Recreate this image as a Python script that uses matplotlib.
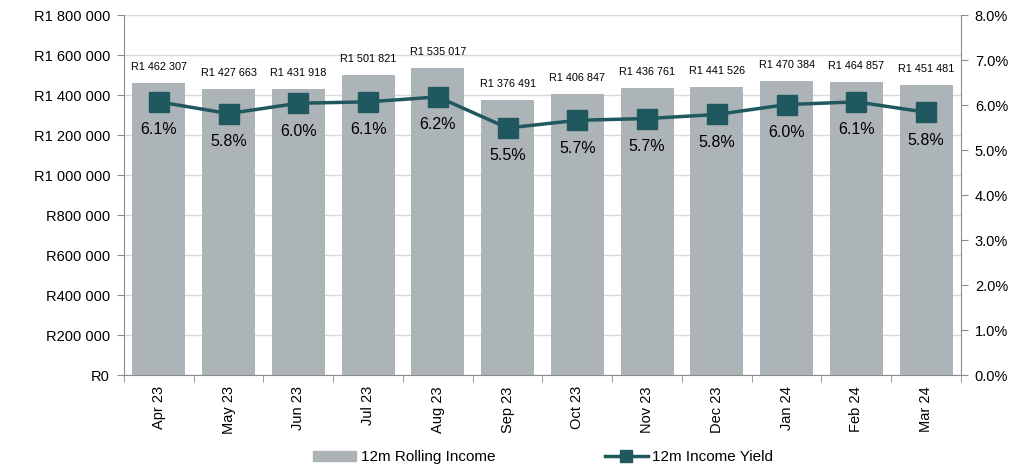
import matplotlib.pyplot as plt
import numpy as np
from matplotlib.lines import Line2D
import matplotlib.patches as mpatches

plt.rcParams['font.family'] = ['Liberation Sans', 'DejaVu Sans']

months = ['Apr 23', 'May 23', 'Jun 23', 'Jul 23', 'Aug 23', 'Sep 23',
          'Oct 23', 'Nov 23', 'Dec 23', 'Jan 24', 'Feb 24', 'Mar 24']
income = [1462307, 1427663, 1431918, 1501821, 1535017, 1376491,
          1406847, 1436761, 1441526, 1470384, 1464857, 1451481]
yield_pct = [6.07, 5.81, 6.04, 6.07, 6.18, 5.49, 5.66, 5.70, 5.79, 6.01, 6.07, 5.84]

bar_col = '#adb4b7'
line_col = '#1f585e'
grid_col = '#d9d9d9'
spine_col = '#8c8c8c'

def rand(v):
    s = '{:,}'.format(v).replace(',', ' ')
    return 'R' + s

fig = plt.figure(figsize=(10.27, 4.65), dpi=100)
ax = fig.add_axes([0.1207, 0.1935, 0.8150, 0.7742])
x = np.arange(len(months))

ax.bar(x, income, width=0.76, color=bar_col, zorder=2)
ax.set_ylim(0, 1800000)
ax.set_xlim(-0.5, len(months) - 0.5)
ax.set_yticks(np.arange(0, 1800001, 200000))
ax.set_yticklabels([rand(v) for v in np.arange(0, 1800001, 200000)], fontsize=10.5)
ax.grid(axis='y', color=grid_col, linewidth=1, zorder=0)
ax.set_axisbelow(True)

for i, v in enumerate(income):
    ax.text(i, v + 80000, rand(v), ha='center', va='center', fontsize=7.8)

ax.set_xticks(x)
ax.set_xticklabels(months, rotation=90, fontsize=10.5)
ax.tick_params(axis='x', length=0, pad=8)
ax.set_xticks(np.arange(-0.5, len(months), 1), minor=True)
ax.tick_params(axis='x', which='minor', length=5, color=spine_col)
ax.tick_params(axis='y', length=5, color=spine_col, pad=5)

for s in ['top', 'right']:
    ax.spines[s].set_visible(False)
for s in ['left', 'bottom']:
    ax.spines[s].set_color(spine_col)

ax2 = ax.twinx()
ax2.plot(x, yield_pct, color=line_col, linewidth=2.5, marker='s',
         markersize=14, zorder=5)
ax2.set_ylim(0, 8)
ax2.set_yticks(np.arange(0, 8.01, 1))
ax2.set_yticklabels(['{:.1f}%'.format(v) for v in np.arange(0, 8.01, 1)], fontsize=10.5)
ax2.tick_params(axis='y', length=5, color=spine_col, pad=5)
for s in ['top', 'left', 'bottom']:
    ax2.spines[s].set_visible(False)
ax2.spines['right'].set_color(spine_col)

for i, v in enumerate(yield_pct):
    ax2.text(i, v - 0.62, '{:.1f}%'.format(v), ha='center', va='center', fontsize=11.5)

handles = [mpatches.Patch(color=bar_col, label='12m Rolling Income'),
           Line2D([0], [0], color=line_col, linewidth=2.5, marker='s',
                  markersize=8, label='12m Income Yield')]
fig.legend(handles=handles, loc='lower center', ncol=2, frameon=False,
           fontsize=11, bbox_to_anchor=(0.529, -0.028), columnspacing=7.2,
           handlelength=2.8, handletextpad=0.3)

fig.savefig('out.png', dpi=100)
